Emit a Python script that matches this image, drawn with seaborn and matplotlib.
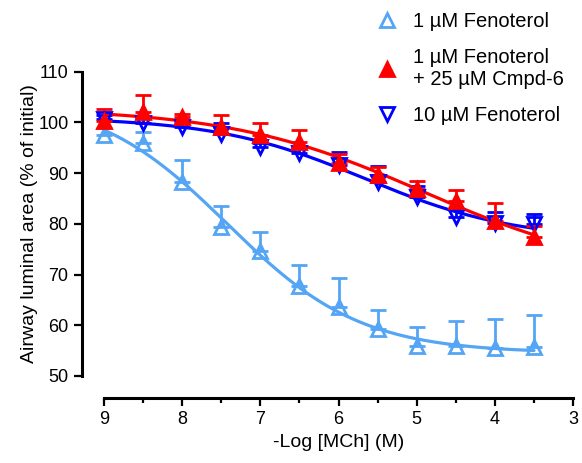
import numpy as np
import pandas as pd
import matplotlib
matplotlib.use("Agg")
import matplotlib.pyplot as plt
from matplotlib.lines import Line2D
import seaborn as sns

# -Log [MCh] (M) doses
log_mch = [9.0, 8.5, 8.0, 7.5, 7.0, 6.5, 6.0, 5.5, 5.0, 4.5, 4.0, 3.5]

# 1 uM Fenoterol
feno1_mean = [97.6, 96.0, 88.2, 79.3, 74.6, 67.7, 63.6, 59.2, 55.9, 55.9, 55.5, 55.7]
feno1_err = [1.4, 2.2, 4.3, 4.3, 3.7, 4.1, 5.7, 3.8, 3.7, 4.9, 5.7, 6.3]

# 1 uM Fenoterol + 25 uM Cmpd-6
cmpd_mean = [100.2, 102.1, 101.1, 99.2, 97.6, 96.2, 92.1, 89.7, 86.8, 84.6, 80.5, 77.5]
cmpd_err = [2.5, 3.4, 0.5, 2.3, 2.2, 2.4, 1.6, 1.6, 1.6, 2.0, 3.7, 2.0]

# 10 uM Fenoterol
feno10_mean = [100.6, 99.9, 99.2, 97.8, 95.2, 94.0, 91.7, 88.2, 85.2, 81.3, 80.1, 79.9]
feno10_err = [0.8, 0.9, 0.6, 2.0, 0.8, 0.9, 2.4, 3.3, 2.2, 1.6, 2.3, 2.0]

labels = ["1 µM Fenoterol", "1 µM Fenoterol\n+ 25 µM Cmpd-6", "10 µM Fenoterol"]
colors = ["#55A5F5", "#FF0000", "#0000FF"]
markers = ["^", "^", "v"]
filled = [False, True, False]


def fit_4pl(x, y):
    """Crude 4-parameter logistic fit: grid over (logEC50, hill), linear for top/bottom."""
    x = np.asarray(x)
    y = np.asarray(y)
    c, h = np.meshgrid(np.arange(2.0, 11.0, 0.02), np.arange(0.2, 3.0, 0.01))
    c = c.ravel()
    h = h.ravel()
    s = 1.0 / (1.0 + 10 ** (h[:, None] * (c[:, None] - x[None, :])))
    sm = s.mean(axis=1, keepdims=True)
    ym = y.mean()
    b = ((s - sm) * (y - ym)).sum(axis=1) / ((s - sm) ** 2).sum(axis=1)
    a = ym - b * sm[:, 0]
    sse = ((a[:, None] + b[:, None] * s - y[None, :]) ** 2).sum(axis=1)
    sse[b <= 0] = np.inf
    i = np.argmin(sse)
    return a[i], b[i], c[i], h[i]


def curve(xs, p):
    a, b, c, h = p
    return a + b / (1.0 + 10 ** (h * (c - xs)))


sns.set_style("ticks")
plt.rcParams["font.family"] = ["Liberation Sans", "DejaVu Sans"]
plt.rcParams["text.color"] = "black"
plt.rcParams["axes.labelcolor"] = "black"
plt.rcParams["xtick.color"] = "black"
plt.rcParams["ytick.color"] = "black"

fig = plt.figure(figsize=(5.82, 4.63), dpi=100)
ax = fig.add_axes([0.1787, 0.188, 0.806, 0.657])

x_fit = np.linspace(9.0, 3.5, 200)
series = [
    (feno1_mean, feno1_err),
    (feno10_mean, feno10_err),
    (cmpd_mean, cmpd_err),
]
order = [0, 2, 1]

for (mean, err), k in zip(series, order):
    p = fit_4pl(log_mch, mean)
    fit_df = pd.DataFrame({"x": x_fit, "y": curve(x_fit, p)})
    sns.lineplot(data=fit_df, x="x", y="y", color=colors[k], linewidth=2.3, ax=ax, sort=False)
    eb = ax.errorbar(log_mch, mean, yerr=[np.zeros(len(err)), err], fmt=markers[k], ms=10,
                     mfc=colors[k] if filled[k] else "none", mec=colors[k], mew=2,
                     ecolor=colors[k], elinewidth=2, capsize=6, capthick=2.5)
    for art in eb.get_children():
        art.set_clip_on(False)
    eb[0].set_clip_on(False)

ax.set_xlim(9, 3)
ax.set_ylim(50, 110)
ax.set_xticks([9, 8, 7, 6, 5, 4, 3])
ax.set_xticks([8.5, 7.5, 6.5, 5.5, 4.5, 3.5], minor=True)
ax.set_yticks([50, 60, 70, 80, 90, 100, 110])
ax.tick_params(axis="both", which="major", labelsize=13, width=1.6, length=6, color="black")
ax.tick_params(axis="x", which="minor", width=1.6, length=3.5, color="black")
ax.set_xlabel("-Log [MCh] (M)", fontsize=14)
ax.set_ylabel("Airway luminal area (% of initial)", fontsize=14, labelpad=0)
sns.despine(ax=ax, offset=16)
for side in ["left", "bottom"]:
    ax.spines[side].set_linewidth(2.2)
    ax.spines[side].set_color("black")

handles = [
    Line2D([], [], linestyle="none", marker=markers[k], ms=10, mew=2,
           mfc=colors[k] if filled[k] else "none", mec=colors[k])
    for k in range(3)
]
fig.legend(handles, labels, loc="upper left", bbox_to_anchor=(0.617, 1.013), frameon=False,
           fontsize=14.5, handlelength=1.0, handletextpad=0.8, labelspacing=0.85)

fig.savefig("out.png", dpi=100)
